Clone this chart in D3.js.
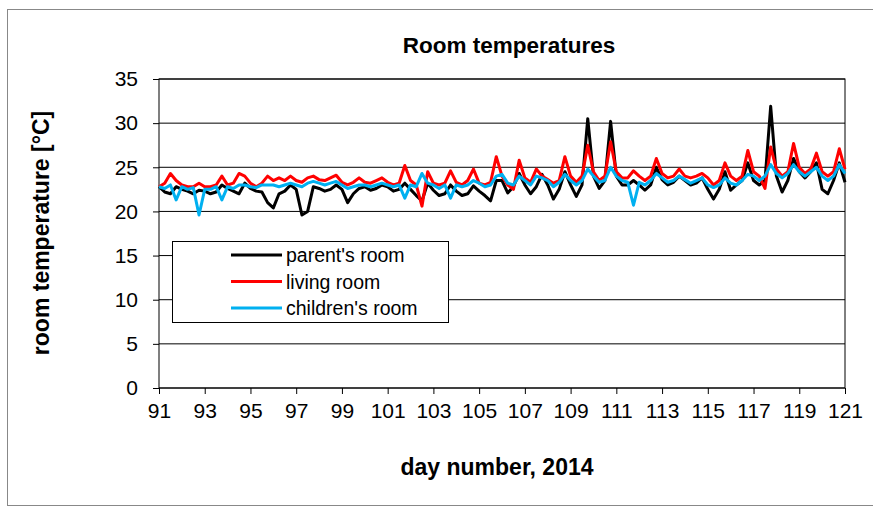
<!DOCTYPE html>
<html>
<head>
<meta charset="utf-8">
<script src="https://cdn.jsdelivr.net/npm/d3@7"></script>
<style>
  body { margin: 0; background: #fff; }
  text { font-family: "Liberation Sans", Arial, sans-serif; }
</style>
</head>
<body>
<svg id="chart" width="873" height="510"></svg>
<script>
// readings every 6 hours, day 91.00 .. 121.00
const startDay = 91;
const stepDay = 0.25;

const parentsRoom = [
  22.8, 22.2, 22.0, 22.8,  22.5, 22.3, 22.0, 22.4,  22.3, 22.0, 22.2, 23.0,
  22.6, 22.3, 22.0, 23.2,  22.6, 22.3, 22.2, 21.0,  20.4, 22.0, 22.3, 23.0,
  22.5, 19.6, 20.0, 22.8,  22.6, 22.3, 22.5, 23.0,  22.5, 21.0, 22.0, 22.6,
  22.8, 22.4, 22.6, 23.0,  22.8, 22.3, 22.5, 23.2,  22.5, 21.8, 21.2, 23.2,
  22.4, 21.8, 22.0, 23.0,  22.3, 21.8, 22.0, 22.9,  22.3, 21.8, 21.2, 23.5,
  23.5, 22.1, 22.8, 24.3,  23.0, 22.0, 22.8, 24.2,  23.0, 21.4, 22.5, 24.5,
  23.0, 21.7, 23.0, 30.5,  24.0, 22.6, 23.5, 30.2,  24.0, 23.0, 23.0, 23.5,
  23.0, 22.4, 23.0, 25.0,  23.6, 23.0, 23.3, 24.0,  23.5, 23.0, 23.2, 23.8,
  22.5, 21.4, 22.5, 24.5,  22.4, 23.0, 23.5, 25.5,  23.5, 23.0, 23.5, 31.9,
  24.0, 22.2, 23.5, 26.0,  24.5, 23.8, 24.5, 25.5,  22.5, 22.0, 23.5, 25.5,
  23.3
];

const livingRoom = [
  22.8, 23.2, 24.3, 23.5,  23.0, 22.8, 22.8, 23.2,  22.8, 22.8, 23.0, 24.0,
  23.0, 23.2, 24.3, 24.0,  23.2, 22.8, 23.2, 24.0,  23.5, 23.8, 23.5, 24.0,
  23.5, 23.3, 23.8, 24.0,  23.6, 23.5, 23.8, 24.1,  23.3, 23.0, 23.3, 23.8,
  23.3, 23.2, 23.5, 23.8,  23.3, 23.0, 23.2, 25.2,  23.5, 23.0, 20.6, 24.5,
  23.2, 23.0, 23.2, 24.6,  23.3, 23.0, 23.5, 24.8,  23.2, 23.0, 23.3, 26.2,
  24.0, 23.0, 22.5, 25.8,  23.8, 23.3, 24.8, 24.0,  23.6, 23.2, 23.5, 26.2,
  24.0, 23.3, 24.0, 27.5,  24.5, 23.5, 24.0, 27.9,  24.5, 23.8, 23.8, 24.6,
  24.0, 23.5, 24.0, 26.0,  24.3, 23.8, 24.0, 24.8,  24.0, 23.8, 24.0, 24.3,
  23.8, 23.0, 23.5, 25.5,  24.0, 23.5, 24.0, 26.9,  24.5, 24.0, 22.6, 27.3,
  24.8, 24.0, 24.5, 27.7,  25.0, 24.3, 24.8, 26.6,  24.5, 24.0, 24.5, 27.1,
  24.8
];

const childrensRoom = [
  22.8, 22.6, 23.0, 21.3,  22.8, 22.5, 22.7, 19.6,  22.5, 22.5, 22.8, 21.3,
  22.8, 22.6, 23.0, 23.0,  22.8, 22.7, 23.0, 23.0,  23.0, 22.8, 23.0, 23.2,
  23.0, 22.8, 23.2, 23.4,  23.2, 23.0, 23.2, 23.4,  23.0, 22.6, 22.8, 23.0,
  23.0, 22.8, 23.0, 23.2,  23.0, 22.8, 23.0, 21.5,  23.0, 22.8, 24.3, 23.2,
  23.0, 22.6, 23.0, 21.5,  23.0, 22.8, 23.0, 23.5,  23.2, 22.8, 23.0, 24.0,
  24.2, 23.2, 23.0, 24.0,  23.5, 23.0, 24.0, 23.8,  23.5, 22.8, 23.3, 24.2,
  23.5, 23.0, 23.5, 24.8,  24.0, 23.3, 23.5, 25.0,  24.0, 23.5, 23.3, 20.7,
  23.3, 23.0, 23.5, 24.3,  23.8, 23.3, 23.5, 24.0,  23.6, 23.2, 23.5, 23.8,
  23.0, 22.7, 23.0, 23.8,  23.2, 23.0, 23.5, 24.2,  24.0, 23.5, 24.0, 25.3,
  24.3, 23.8, 24.3, 25.3,  24.5, 24.0, 24.5, 25.0,  24.0, 23.5, 24.0, 25.3,
  24.3
];

const seriesNames = ["parent's room", "living room", "children's room"];
const seriesColors = ["#000000", "#ff0000", "#00b0f0"];
const xTicks = d3.range(91, 122, 2);
const yTicks = d3.range(0, 36, 5);

const svg = d3.select("#chart");

// outer chart frame
svg.append("rect")
  .attr("x", 7.5).attr("y", 9.5)
  .attr("width", 866).attr("height", 496)
  .attr("fill", "none").attr("stroke", "#888").attr("stroke-width", 1);

const plotLeft = 159, plotRight = 845, plotTop = 79, plotBottom = 388;

const x = d3.scaleLinear().domain([91, 121]).range([plotLeft, plotRight]);
const y = d3.scaleLinear().domain([0, 35]).range([plotBottom, plotTop]);

// horizontal gridlines
svg.append("g")
  .selectAll("line")
  .data(yTicks)
  .join("line")
  .attr("x1", plotLeft).attr("x2", plotRight)
  .attr("y1", d => y(d)).attr("y2", d => y(d))
  .attr("stroke", "#000").attr("stroke-width", 1);

// plot frame
svg.append("rect")
  .attr("x", plotLeft).attr("y", plotTop)
  .attr("width", plotRight - plotLeft).attr("height", plotBottom - plotTop)
  .attr("fill", "none").attr("stroke", "#000").attr("stroke-width", 1);

const xAxis = svg.append("g")
  .attr("transform", `translate(0,${plotBottom})`)
  .call(d3.axisBottom(x).tickValues(xTicks).tickSize(6).tickPadding(9).tickFormat(d3.format("d")));
xAxis.select(".domain").remove();
xAxis.selectAll("text").attr("font-size", 21).attr("fill", "#000")
  .attr("font-family", "Liberation Sans, Arial, sans-serif");

const yAxis = svg.append("g")
  .attr("transform", `translate(${plotLeft},0)`)
  .call(d3.axisLeft(y).tickValues(yTicks).tickSize(6).tickPadding(15));
yAxis.select(".domain").remove();
yAxis.selectAll("text").attr("font-size", 21).attr("fill", "#000")
  .attr("font-family", "Liberation Sans, Arial, sans-serif");

// lines
const allSeries = [parentsRoom, livingRoom, childrensRoom];
const line = d3.line()
  .x((d, i) => x(startDay + i * stepDay))
  .y(d => y(d));

svg.append("g")
  .selectAll("path")
  .data(allSeries)
  .join("path")
  .attr("d", d => line(d))
  .attr("fill", "none")
  .attr("stroke", (d, i) => seriesColors[i])
  .attr("stroke-width", 3)
  .attr("stroke-linejoin", "round");

// title and axis titles
svg.append("text")
  .attr("x", 509).attr("y", 53)
  .attr("text-anchor", "middle")
  .attr("font-size", 22.5).attr("font-weight", "bold")
  .text("Room temperatures");

svg.append("text")
  .attr("x", 497).attr("y", 475)
  .attr("text-anchor", "middle")
  .attr("font-size", 23).attr("font-weight", "bold")
  .text("day number, 2014");

svg.append("text")
  .attr("transform", "translate(49,233) rotate(-90)")
  .attr("text-anchor", "middle")
  .attr("font-size", 23).attr("font-weight", "bold")
  .text("room temperature [°C]");

// legend
const legend = svg.append("g");
legend.append("rect")
  .attr("x", 172.5).attr("y", 241.5)
  .attr("width", 276).attr("height", 81)
  .attr("fill", "#fff").attr("stroke", "#000").attr("stroke-width", 1);

const items = legend.selectAll("g.item")
  .data(seriesNames)
  .join("g")
  .attr("class", "item")
  .attr("transform", (d, i) => `translate(0,${255 + i * 26.5})`);
items.append("line")
  .attr("x1", 231).attr("x2", 282)
  .attr("stroke", (d, i) => seriesColors[i])
  .attr("stroke-width", 3);
items.append("text")
  .attr("x", 286).attr("y", 7)
  .attr("font-size", 19.5)
  .text(d => d);
</script>
</body>
</html>
